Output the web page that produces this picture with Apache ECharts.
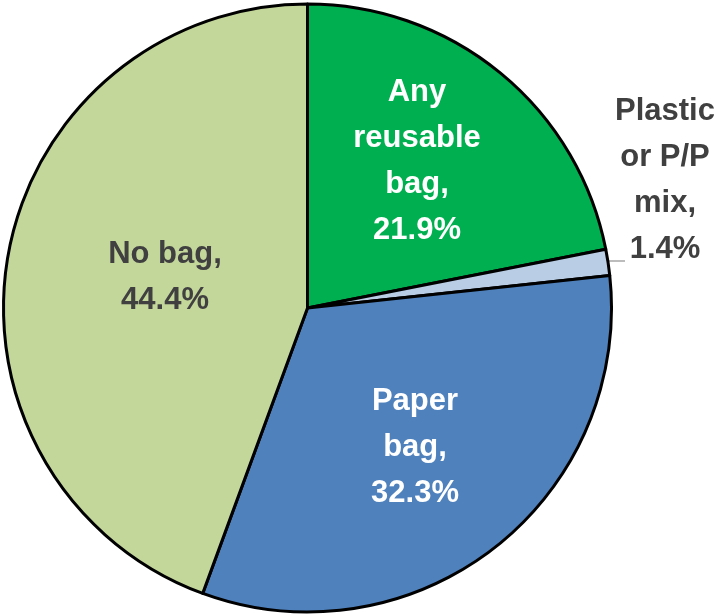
<!DOCTYPE html>
<html>
<head>
<meta charset="utf-8">
<script src="https://cdn.jsdelivr.net/npm/echarts@6/dist/echarts.min.js"></script>
<style>
html,body{margin:0;padding:0;background:#fff;}
#chart{width:715px;height:614px;}
</style>
</head>
<body>
<div id="chart"></div>
<script>
// Data
const categories = ['Any\nreusable\nbag', 'Plastic\nor P/P\nmix', 'Paper\nbag', 'No bag'];
const shares = [21.9, 1.4, 32.3, 44.4];

// Styles / layout
const sliceColors = ['#00B050', '#B9CDE5', '#4F81BD', '#C4D79B'];
const labelColors = ['#FFFFFF', '#404040', '#FFFFFF', '#404040'];
const labelCenters = [[417, 161], [665, 180], [415, 447], [165, 277]];

const chart = echarts.init(document.getElementById('chart'), null, {renderer: 'canvas'});

const data = categories.map((name, i) => ({
  name: name,
  value: shares[i],
  itemStyle: {color: sliceColors[i]},
  label: {
    position: i === 1 ? 'outside' : 'inside',
    color: labelColors[i]
  },
  labelLine: {show: i === 1, lineStyle: {color: '#A6A6A6', width: 1.5}}
}));

chart.setOption({
  animation: false,
  series: [{
    type: 'pie',
    center: [307.5, 308],
    radius: [0, 304],
    startAngle: 90,
    clockwise: true,
    avoidLabelOverlap: false,
    itemStyle: {borderColor: '#000000', borderWidth: 3},
    label: {
      show: true,
      fontFamily: 'Liberation Sans',
      fontWeight: 'bold',
      fontSize: 31,
      lineHeight: 46,
      align: 'center',
      formatter: p => p.name + ',\n' + p.value.toFixed(1) + '%'
    },
    emphasis: {disabled: true},
    labelLayout: function (params) {
      const c = labelCenters[params.dataIndex];
      const res = {x: c[0], y: c[1], align: 'center', verticalAlign: 'middle'};
      if (params.dataIndex === 1) {
        res.labelLinePoints = [[608, 261], [616, 261], [625, 261]];
      }
      return res;
    },
    data: data
  }]
});
</script>
</body>
</html>
